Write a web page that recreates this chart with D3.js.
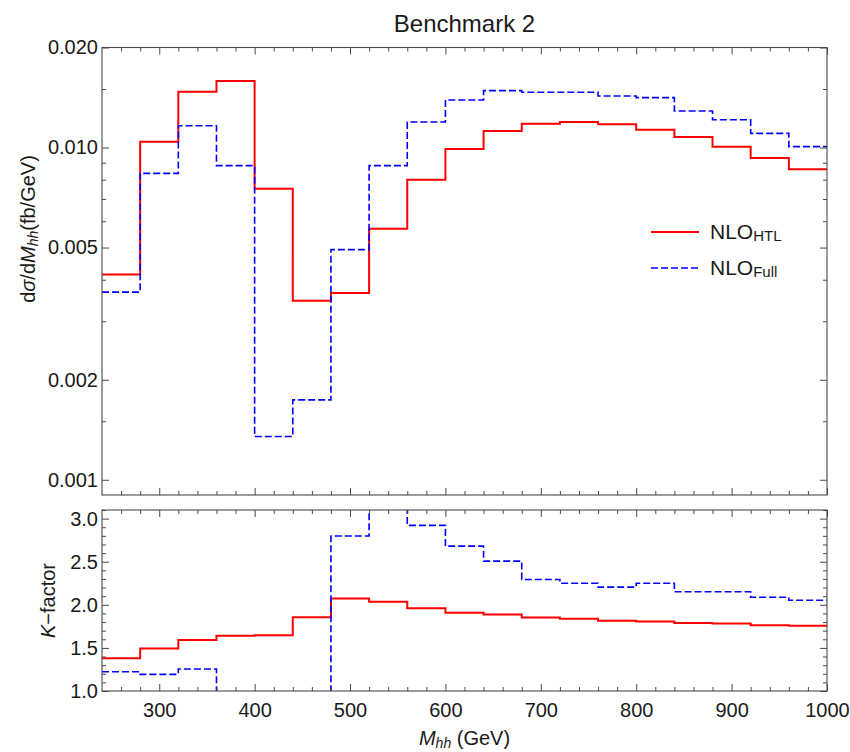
<!DOCTYPE html>
<html>
<head>
<meta charset="utf-8">
<script src="https://cdn.jsdelivr.net/npm/d3@7"></script>
<style>
  body { margin: 0; background: #fff; }
  svg text { font-family: "Liberation Sans", Arial, Helvetica, sans-serif; fill: #1a1a1a; }
</style>
</head>
<body>
<svg id="chart" width="850" height="752"></svg>
<script>
// ---------- data ----------
const binLow = [240, 280, 320, 360, 400, 440, 480, 520, 560, 600, 640, 680, 720, 760, 800, 840, 880, 920, 960];
const binEnd = 1000;

// dσ/dM_hh (fb/GeV)
const nloHTL = [0.00415, 0.01041, 0.01472, 0.01586, 0.00752, 0.00346, 0.00365, 0.00570, 0.00800, 0.00990,
                0.01121, 0.01179, 0.01193, 0.01175, 0.01131, 0.01076, 0.01006, 0.00930, 0.00860];
const nloFull = [0.00367, 0.00836, 0.01163, 0.00882, 0.00135, 0.00174, 0.00493, 0.00882, 0.01193, 0.01390,
                 0.01483, 0.01466, 0.01466, 0.01429, 0.01413, 0.01288, 0.01212, 0.01103, 0.01006];

// K-factor
const kHTL = [1.379, 1.492, 1.593, 1.640, 1.647, 1.856, 2.073, 2.035, 1.960, 1.907,
              1.887, 1.852, 1.837, 1.814, 1.806, 1.790, 1.783, 1.763, 1.756];
const kFull = [1.224, 1.193, 1.256, 0.75, 0.35, 0.60, 2.798, 3.30, 2.922, 2.681,
               2.507, 2.294, 2.251, 2.205, 2.251, 2.151, 2.151, 2.088, 2.053];

// ticks
const xMajor = [300, 400, 500, 600, 700, 800, 900, 1000];
const xMinor = [260, 280, 320, 340, 360, 380, 420, 440, 460, 480, 520, 540, 560, 580, 620, 640, 660, 680,
                720, 740, 760, 780, 820, 840, 860, 880, 920, 940, 960, 980];
const yTopMajor = [0.001, 0.002, 0.005, 0.010, 0.020];
const yTopLabels = ["0.001", "0.002", "0.005", "0.010", "0.020"];
const yTopMinor = [0.0015, 0.003, 0.004, 0.006, 0.007, 0.008, 0.009, 0.015];
const yBotMajor = [1.0, 1.5, 2.0, 2.5, 3.0];
const yBotMinor = [1.1, 1.2, 1.3, 1.4, 1.6, 1.7, 1.8, 1.9, 2.1, 2.2, 2.3, 2.4, 2.6, 2.7, 2.8, 2.9, 3.1];

// ---------- layout ----------
const L = 102, R = 827;
const topT = 47.5, topB = 495;
const botT = 510, botB = 691;
const frameColor = "#4a4a4a";
const red = "#ff0000", blue = "#0000ff";

const svg = d3.select("#chart");

const x = d3.scaleLinear().domain([240, 1000]).range([L, R]);
const yTop = d3.scaleLog().domain([0.0009, 0.020]).range([topB, topT]);
const yBot = d3.scaleLinear().domain([1.0, 3.1]).range([botB, botT]);

const defs = svg.append("defs");
defs.append("clipPath").attr("id", "clipTop").append("rect")
  .attr("x", L).attr("y", topT).attr("width", R - L).attr("height", topB - topT);
defs.append("clipPath").attr("id", "clipBot").append("rect")
  .attr("x", L).attr("y", botT).attr("width", R - L).attr("height", botB - botT);

function stepPoints(vals) {
  const pts = binLow.map((b, i) => [b, vals[i]]);
  pts.push([binEnd, vals[vals.length - 1]]);
  return pts;
}

function drawAxes(yScale, yMajor, yMinor, yLabels, showX, top, bottom) {
  const g = svg.append("g");
  const styleAxis = sel => {
    sel.select(".domain").remove();
    sel.selectAll(".tick line").attr("stroke", frameColor).attr("stroke-width", 1);
    sel.selectAll(".tick text").attr("font-size", 20).attr("fill", "#1a1a1a")
      .attr("font-family", '"Liberation Sans", Arial, sans-serif');
  };
  // bottom x
  g.append("g").attr("transform", `translate(0,${bottom})`)
    .call(d3.axisBottom(x).tickValues(xMajor).tickSize(-7).tickPadding(12)
      .tickFormat(showX ? d3.format("d") : () => ""))
    .call(styleAxis);
  g.append("g").attr("transform", `translate(0,${bottom})`)
    .call(d3.axisBottom(x).tickValues(xMinor).tickSize(-4).tickFormat(() => ""))
    .call(styleAxis);
  // top x
  g.append("g").attr("transform", `translate(0,${top})`)
    .call(d3.axisTop(x).tickValues(xMajor).tickSize(-7).tickFormat(() => ""))
    .call(styleAxis);
  g.append("g").attr("transform", `translate(0,${top})`)
    .call(d3.axisTop(x).tickValues(xMinor).tickSize(-4).tickFormat(() => ""))
    .call(styleAxis);
  // left y
  g.append("g").attr("transform", `translate(${L},0)`)
    .call(d3.axisLeft(yScale).tickValues(yMajor).tickSize(-7).tickPadding(4)
      .tickFormat((d, i) => yLabels[i]))
    .call(styleAxis);
  g.append("g").attr("transform", `translate(${L},0)`)
    .call(d3.axisLeft(yScale).tickValues(yMinor).tickSize(-4).tickFormat(() => ""))
    .call(styleAxis);
  // right y
  g.append("g").attr("transform", `translate(${R},0)`)
    .call(d3.axisRight(yScale).tickValues(yMajor).tickSize(-7).tickFormat(() => ""))
    .call(styleAxis);
  g.append("g").attr("transform", `translate(${R},0)`)
    .call(d3.axisRight(yScale).tickValues(yMinor).tickSize(-4).tickFormat(() => ""))
    .call(styleAxis);
  // frame
  svg.append("rect").attr("x", L).attr("y", top).attr("width", R - L).attr("height", bottom - top)
    .attr("fill", "none").attr("stroke", frameColor).attr("stroke-width", 1.1);
}

function drawSeries(yScale, clip, vals, color, width, dash) {
  const line = d3.line().x(d => x(d[0])).y(d => yScale(d[1])).curve(d3.curveStepAfter);
  svg.append("path").attr("clip-path", `url(#${clip})`)
    .attr("d", line(stepPoints(vals)))
    .attr("fill", "none").attr("stroke", color).attr("stroke-width", width)
    .attr("stroke-dasharray", dash || null).attr("stroke-linejoin", "miter");
}

// ---------- top panel ----------
drawSeries(yTop, "clipTop", nloHTL, red, 2, null);
drawSeries(yTop, "clipTop", nloFull, blue, 1.6, "7,3");
drawAxes(yTop, yTopMajor, yTopMinor, yTopLabels, false, topT, topB);

// ---------- bottom panel ----------
drawSeries(yBot, "clipBot", kHTL, red, 2, null);
drawSeries(yBot, "clipBot", kFull, blue, 1.6, "7,3");
drawAxes(yBot, yBotMajor, yBotMinor, yBotMajor.map(d => d.toFixed(1)), true, botT, botB);

// ---------- title ----------
svg.append("text").attr("x", (L + R) / 2).attr("y", 32).attr("text-anchor", "middle")
  .attr("font-size", 24).text("Benchmark 2");

// ---------- axis labels ----------
const yl = svg.append("text").attr("transform", "translate(35,229) rotate(-90)")
  .attr("text-anchor", "middle").attr("font-size", 20);
yl.append("tspan").text("d");
yl.append("tspan").attr("font-style", "italic").text("σ");
yl.append("tspan").text("/d");
yl.append("tspan").attr("font-style", "italic").text("M");
yl.append("tspan").attr("font-style", "italic").attr("font-size", 14).attr("dy", 3).text("hh");
yl.append("tspan").attr("dy", -3).text("(fb/GeV)");

const kl = svg.append("text").attr("transform", `translate(55,${(botT + botB) / 2}) rotate(-90)`)
  .attr("text-anchor", "middle").attr("font-size", 20);
kl.append("tspan").attr("font-style", "italic").text("K");
kl.append("tspan").text("−factor");

const xl = svg.append("text").attr("x", (L + R) / 2).attr("y", 745)
  .attr("text-anchor", "middle").attr("font-size", 20);
xl.append("tspan").attr("font-style", "italic").text("M");
xl.append("tspan").attr("font-style", "italic").attr("font-size", 14).attr("dy", 2.5).text("hh");
xl.append("tspan").attr("dy", -2.5).text(" (GeV)");

// ---------- legend ----------
const legend = [
  { name: "NLO", sub: "HTL", color: red, width: 2, dash: null, y: 232 },
  { name: "NLO", sub: "Full", color: blue, width: 1.6, dash: "7,3", y: 268 }
];
legend.forEach(d => {
  svg.append("line").attr("x1", 651).attr("x2", 699).attr("y1", d.y).attr("y2", d.y)
    .attr("stroke", d.color).attr("stroke-width", d.width).attr("stroke-dasharray", d.dash);
  const t = svg.append("text").attr("x", 710).attr("y", d.y + 6.5).attr("font-size", 21);
  t.append("tspan").text(d.name);
  t.append("tspan").attr("font-size", 15).attr("dy", 2).text(d.sub);
});
</script>
</body>
</html>
